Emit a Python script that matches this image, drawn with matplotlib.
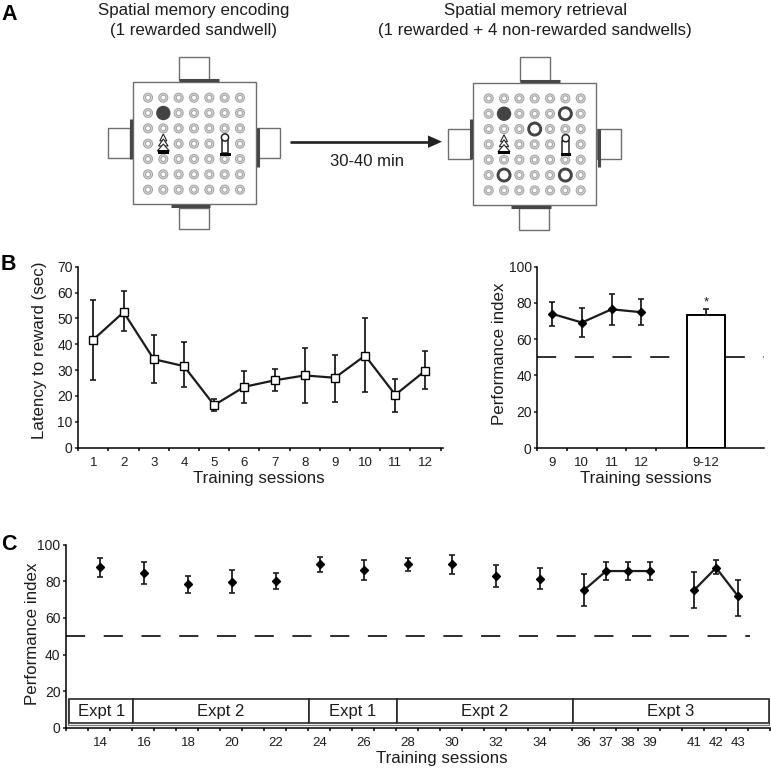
import matplotlib
matplotlib.use('Agg')
import numpy as np
import matplotlib.pyplot as plt
from matplotlib.patches import Circle, Rectangle, Polygon

plt.rcParams['font.family'] = ['Liberation Sans', 'DejaVu Sans']
plt.rcParams['font.size'] = 12

INK = '#1c1c1c'

# panel B left
latency_sessions = [1, 2, 3, 4, 5, 6, 7, 8, 9, 10, 11, 12]
latency = [41.8, 52.4, 34.2, 31.5, 16.4, 23.5, 26.0, 27.9, 27.0, 35.6, 20.4, 29.8]
latency_hi = [57.0, 60.4, 43.7, 40.7, 18.7, 29.7, 30.5, 38.6, 35.9, 50.0, 26.5, 37.3]
latency_lo = [26.3, 45.0, 24.8, 23.5, 14.0, 17.2, 22.0, 17.4, 17.8, 21.6, 13.7, 22.5]

# panel B right
perf_labels = ['9', '10', '11', '12']
perf = [74.0, 69.2, 76.5, 74.9]
perf_hi = [80.5, 77.0, 85.0, 82.2]
perf_lo = [67.3, 61.3, 68.0, 67.7]
bar_label = '9-12'
bar_value = 73.2
bar_hi = 76.9

# panel C
c_sessions = [14, 16, 18, 20, 22, 24, 26, 28, 30, 32, 34, 36, 37, 38, 39, 41, 42, 43]
c_perf = [87.6, 84.7, 78.3, 79.8, 80.3, 89.4, 86.2, 89.3, 89.3, 83.0, 81.2,
          75.2, 85.6, 85.6, 85.6, 75.2, 87.4, 71.8]
c_hi = [92.9, 90.7, 83.0, 86.2, 84.5, 93.4, 91.4, 92.5, 94.5, 89.0, 87.0,
        84.0, 90.7, 90.7, 90.7, 85.0, 91.6, 80.9]
c_lo = [82.5, 78.3, 73.8, 73.6, 75.8, 85.0, 80.9, 85.8, 84.0, 77.0, 75.8,
        66.3, 80.7, 80.7, 80.7, 65.4, 83.8, 61.2]
c_runs = [(36, 39), (41, 43)]
expt_names = ['Expt 1', 'Expt 2', 'Expt 1', 'Expt 2', 'Expt 3']
expt_edges = [12.6, 15.5, 23.5, 27.5, 35.5, 44.4]
chance = 50


def px_axes(left, top, right, bottom):
    ax = fig.add_axes([left / 771, 1 - bottom / 768, (right - left) / 771, (bottom - top) / 768])
    ax.spines['top'].set_visible(False)
    ax.spines['right'].set_visible(False)
    ax.spines['left'].set_linewidth(1.1)
    ax.spines['bottom'].set_linewidth(1.1)
    ax.tick_params(axis='y', length=2.5, width=1.1, labelsize=10, pad=1.5, colors=INK)
    ax.tick_params(axis='x', which='major', length=2.5, width=1.1, labelbottom=False)
    ax.tick_params(axis='x', which='minor', length=0, labelsize=9.5, pad=6.5, colors=INK)
    return ax


def err(ax, x, y, lo, hi, marker, ms, mfc='k'):
    y = np.array(y)
    ax.errorbar(x, y, yerr=[y - np.array(lo), np.array(hi) - y], fmt='none', ecolor=INK,
                elinewidth=1.3, capsize=1.9, capthick=1.2, zorder=3)
    ax.plot(x, y, linestyle='none', marker=marker, ms=ms, mfc=mfc, mec='k', mew=1.0, zorder=4)


def labels(ax, xlabel, xpos, ylabel, ypos):
    ax.set_xlabel(xlabel, fontsize=12.2, color=INK, va='center')
    ax.xaxis.set_label_coords(xpos[0], xpos[1], transform=bg.transData)
    ax.set_ylabel(ylabel, fontsize=12.2, color=INK, va='center')
    ax.yaxis.set_label_coords(ypos[0], ypos[1], transform=bg.transData)


def arena(dx, dy, big_rings):
    gray = '#a6a6a6'
    dark = '#474747'
    bg.add_patch(Rectangle((132.7 + dx, 82 + dy), 123, 122.3, fc='white', ec='#6e6e6e', lw=1.0))
    # start boxes and doors
    for x, y, w, h in [(179.3, 56.7, 30, 23.3), (107.7, 128.3, 22.3, 30),
                       (256.7, 128.3, 23.6, 30), (178.7, 207.7, 30, 21.6)]:
        bg.add_patch(Rectangle((x + dx, y + dy), w, h, fc='white', ec='#6e6e6e', lw=1.0))
    for xs, ys in [((179.3, 219), (80, 80)), ((130.7, 130.7), (118.7, 158.7)),
                   ((258, 258), (128.3, 166.7)), ((170.7, 210), (206.3, 206.3))]:
        bg.plot(np.array(xs) + dx, np.array(ys) + dy, color=dark, lw=2.2, solid_capstyle='butt')
    for col in range(7):
        for row in range(7):
            if row == 3 and col in (1, 5):
                continue
            cx = 148 + 15.33 * col + dx
            cy = 97.7 + 15.33 * row + dy
            if (col, row) == (1, 1):
                bg.add_patch(Circle((cx, cy), 7.2, fc='#444444', ec='none'))
            elif (col, row) in big_rings:
                bg.add_patch(Circle((cx, cy), 6.0, fc='white', ec='#444444', lw=2.1, zorder=3))
            else:
                bg.add_patch(Circle((cx, cy), 4.5, fc='#dcdcdc', ec=gray, lw=0.8))
                bg.add_patch(Circle((cx, cy), 2.5, fc='white', ec=gray, lw=0.8))
    # tree landmark
    for top, half in [(134, 3.5), (139, 4.8), (144, 6.0)]:
        tx = 163.3 + dx
        tv = top + dy
        bg.add_patch(Polygon([(tx, tv), (tx - half, tv + 7), (tx + half, tv + 7)], closed=True,
                             fc='white', ec='#222222', lw=0.8, zorder=4))
    bg.add_patch(Rectangle((157.7 + dx, 150 + dy), 11.3, 3.7, fc='k', ec='none', zorder=5))
    # tower landmark
    bg.add_patch(Rectangle((221.7 + dx, 140 + dy), 6.7, 13, fc='white', ec='#222222', lw=1.1, zorder=4))
    bg.add_patch(Circle((225 + dx, 137.5 + dy), 3.6, fc='white', ec='#222222', lw=1.1, zorder=5))
    bg.add_patch(Rectangle((220 + dx, 152.5 + dy), 10.7, 3, fc='k', ec='none', zorder=5))


fig = plt.figure(figsize=(7.71, 7.68), dpi=100, facecolor='white')

# pixel canvas for panel A and letters
bg = fig.add_axes([0, 0, 1, 1])
bg.set_xlim(0, 771)
bg.set_ylim(768, 0)
bg.axis('off')

bg.text(194, 10, 'Spatial memory encoding', ha='center', va='center', color=INK, fontsize=12.2)
bg.text(194, 31, '(1 rewarded sandwell)', ha='center', va='center', color=INK, fontsize=12.2)
bg.text(535, 10, 'Spatial memory retrieval', ha='center', va='center', color=INK, fontsize=12.2)
bg.text(535, 31, '(1 rewarded + 4 non-rewarded sandwells)', ha='center', va='center', color=INK, fontsize=12.2)
bg.text(367, 162, '30-40 min', ha='center', va='center', color=INK, fontsize=12)
for letter, yy in [('A', 14), ('B', 265), ('C', 544)]:
    bg.text(1, yy, letter, ha='left', va='center', fontsize=15.5, fontweight='bold', color='k')

arena(0, 0, [])
arena(340.7, 0.7, [(5, 1), (3, 2), (1, 5), (5, 5)])

bg.plot([290, 432], [141.7, 141.7], color='#222222', lw=1.9, solid_capstyle='butt')
bg.add_patch(Polygon([(442, 141.7), (428, 135.5), (428, 147.9)], closed=True, fc='#222222', ec='none'))

# B left
ax1 = px_axes(78.3, 266.7, 443, 447.5)
ax1.set_xlim(0.5, 12.58)
ax1.set_ylim(0, 70)
ax1.set_yticks(np.arange(0, 71, 10))
ax1.set_xticks(np.arange(0.5, 12.6, 1))
ax1.set_xticks(latency_sessions, [str(s) for s in latency_sessions], minor=True)
ax1.plot(latency_sessions, latency, color=INK, lw=1.6, zorder=2)
err(ax1, latency_sessions, latency, latency_lo, latency_hi, 's', 5.2, 'white')
labels(ax1, 'Training sessions', (259, 479), 'Latency to reward (sec)', (40, 350))

# B right
ax2 = px_axes(537.3, 266.7, 764, 448)
ax2.set_xlim(0.5, 8.13)
ax2.set_ylim(0, 100)
ax2.set_yticks(np.arange(0, 101, 20))
pos = np.arange(1, len(perf) + 1)
bar_pos = 6.18
ax2.set_xticks(np.arange(0.5, 5, 1))
ax2.set_xticks(list(pos) + [bar_pos], perf_labels + [bar_label], minor=True)
ax2.plot([0.5, 8.13], [chance, chance], color=INK, lw=1.3, linestyle=(0, (10.6, 10.3)), zorder=1)
ax2.bar([bar_pos], [bar_value], width=1.3, fc='white', ec='k', lw=1.4, zorder=2)
ax2.errorbar([bar_pos], [bar_value], yerr=[[0], [bar_hi - bar_value]], fmt='none', ecolor=INK,
             elinewidth=1.3, capsize=1.9, capthick=1.2, zorder=3)
ax2.text(bar_pos, 80.5, '*', ha='center', va='center', fontsize=9.5, color=INK)
ax2.plot(pos, perf, color=INK, lw=1.6, zorder=2)
err(ax2, pos, perf, perf_lo, perf_hi, 'D', 4.2)
labels(ax2, 'Training sessions', (645.7, 478), 'Performance index', (500, 354))

# C
ax3 = px_axes(66, 544.7, 770, 727.7)
ax3.set_xlim(12.45, 44.45)
ax3.set_ylim(0, 100)
ax3.set_yticks(np.arange(0, 101, 20))
ax3.set_xticks(np.arange(12.45, 44.5, 1))
ax3.set_xticks(c_sessions, [str(s) for s in c_sessions], minor=True)
ax3.plot([12.45, 43.55], [chance, chance], color=INK, lw=1.3, linestyle=(0, (10.6, 10.3)), zorder=1)
for first, last in c_runs:
    keep = [i for i, s in enumerate(c_sessions) if first <= s <= last]
    ax3.plot([c_sessions[i] for i in keep], [c_perf[i] for i in keep], color=INK, lw=1.6, zorder=2)
err(ax3, c_sessions, c_perf, c_lo, c_hi, 'D', 4.2)
ax3.add_patch(Rectangle((expt_edges[0] - 0.08, 1.7), expt_edges[-1] - expt_edges[0] + 0.08, 13.8,
                        fc='none', ec='#777777', lw=0.9, zorder=2))
for name, a, b in zip(expt_names, expt_edges[:-1], expt_edges[1:]):
    ax3.add_patch(Rectangle((a, 2.6), b - a, 12.9, fc='white', ec='#2a2a2a', lw=1.2, zorder=2))
    ax3.text((a + b) / 2, 9.0, name, ha='center', va='center', fontsize=12, color=INK, zorder=3)
labels(ax3, 'Training sessions', (442, 759), 'Performance index', (33, 634))

fig.savefig('out.png', dpi=100)
